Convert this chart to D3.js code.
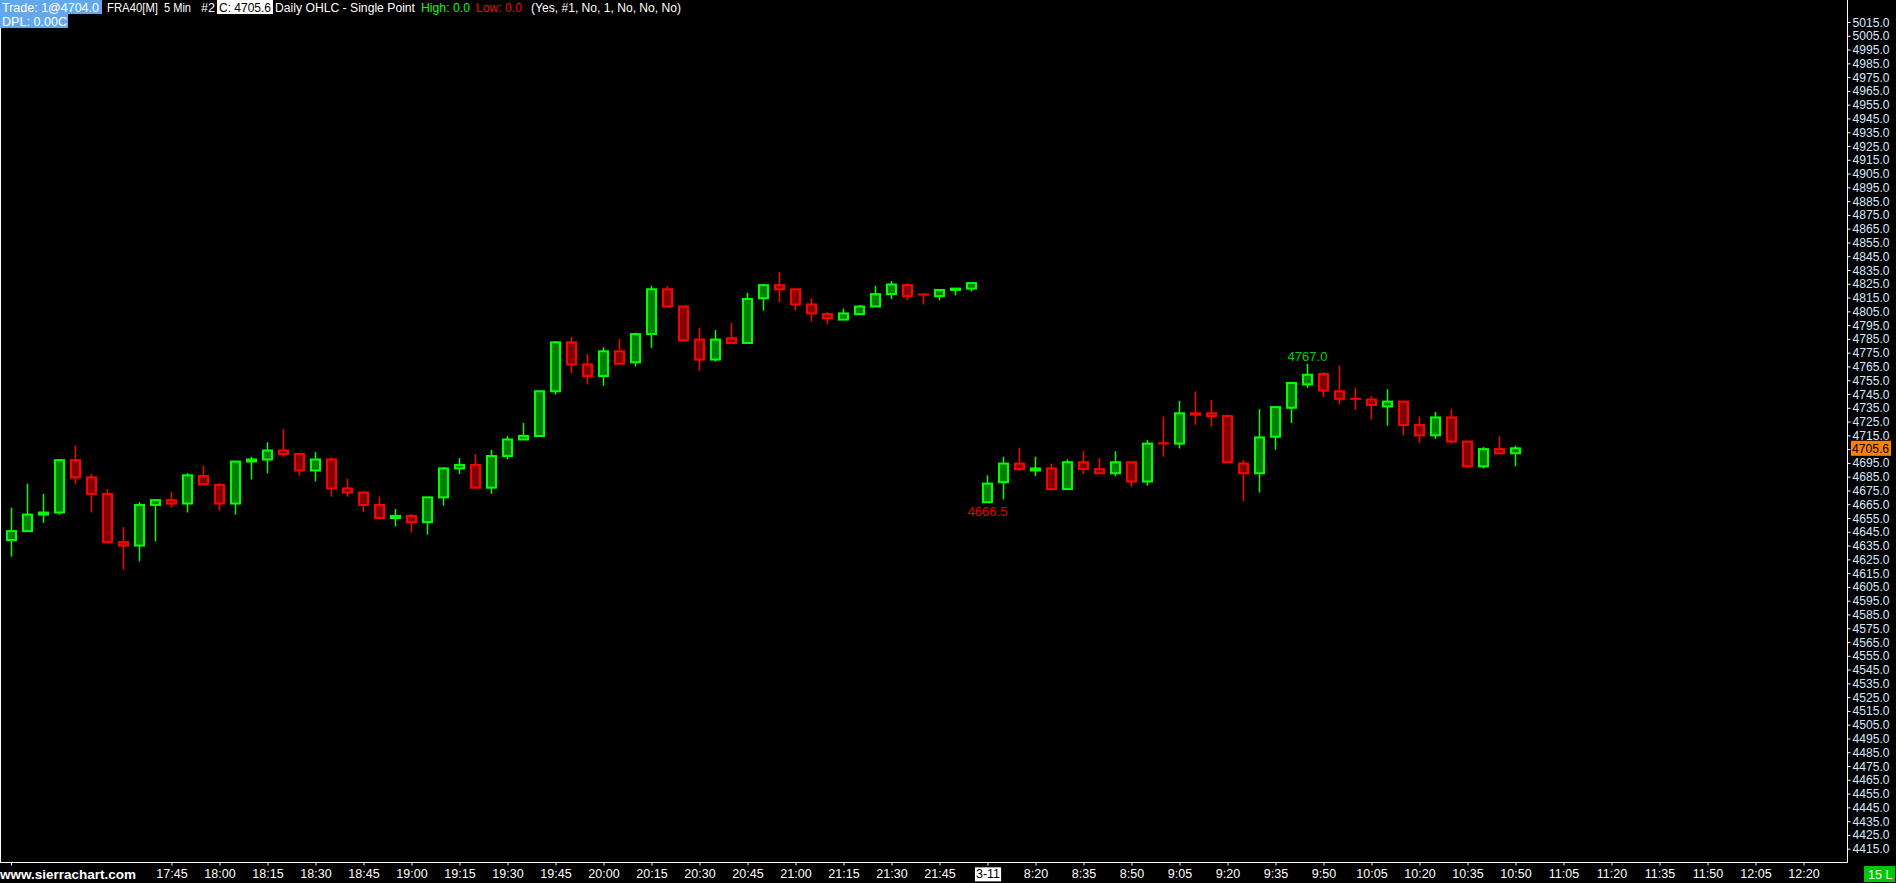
<!DOCTYPE html>
<html>
<head>
<meta charset="utf-8">
<script src="https://cdn.jsdelivr.net/npm/d3@7"></script>
<style>
html,body{margin:0;padding:0;background:#000;overflow:hidden;}
svg{display:block;}
text{font-family:"Liberation Sans",Arial,sans-serif;}
</style>
</head>
<body>
<svg id="chart" width="1896" height="883"></svg>
<script>
// ---- data (FRA40[M], 5 Min bars, bar index 0 = first bar on screen) ----
const opens = [
 4639,4645.5,4657.5,4659,4697,4684.5,4672.5,4637.5,4635,4664.5,
 4668,4665.5,4685.5,4679,4665.5,4696,4697.5,4704,4701.5,4689.5,
 4697.5,4676.5,4673.5,4664.5,4655,4656.5,4652,4670,4691,4693.5,
 4677,4700,4712,4714.5,4747,4782.5,4766.5,4758,4776,4768,
 4788.5,4821,4808.5,4784.5,4770,4785.5,4782,4814.5,4824,4821,
 4810,4803,4799,4803,4808.5,4817.5,4824,4817.5,4816,4820.5,
 4821.5,
 4666.5,4681,4694.5,4689.5,4691,4676,4695.5,4690.5,4687.5,4695.5,
 4681.5,4709.5,4709,4731,4731,4729,4694.5,4687.5,4714,4735,
 4752,4759.5,4747,4741.5,4741,4736,4739.5,4722.5,4715,4728,
 4710.5,4692.5,4705,4702
];
const highs = [
 4662.5,4680,4672.5,4697,4707.5,4687,4676,4648.5,4666.5,4668,
 4674,4687.5,4693,4680.5,4696,4699.5,4710,4719.5,4702.5,4703,
 4699,4683.5,4673.5,4670.5,4661.5,4658,4670,4692,4698.5,4701.5,
 4704.5,4714.5,4724,4747.5,4783.5,4786.5,4774,4779,4785,4789.5,
 4823.5,4823.5,4808.5,4793,4791.5,4796.5,4818.5,4825,4833.5,4821,
 4814.5,4804.5,4807,4809.5,4823.5,4827,4825.5,4817.5,4820.5,4821.5,
 4825.5,
 4686,4699.5,4706,4699.5,4694.5,4697.5,4703.5,4698.5,4703.5,4695.5,
 4711.5,4728.5,4740,4747,4740.5,4730,4697,4734,4735.5,4753,
 4767,4761,4765.5,4749.5,4743.5,4748.5,4739.5,4728.5,4732,4734,
 4710.5,4706.5,4714.5,4707.5
];
const lows = [
 4627,4645.5,4651.5,4657.5,4679.5,4659,4636.5,4617.5,4623.5,4638,
 4662.5,4659,4679.5,4660.5,4657.5,4683,4687.5,4699.5,4686,4681.5,
 4670.5,4670.5,4659.5,4654,4649,4644.5,4643,4664,4687,4676.5,
 4672.5,4697.5,4712,4714.5,4744.5,4760,4752,4751,4766.5,4765,
 4778.5,4808.5,4783,4762,4768.5,4781.5,4782,4805.5,4811.5,4805.5,
 4797.5,4795.5,4799,4803,4808.5,4814,4813,4810,4813,4816.5,
 4819.5,
 4666.5,4668.5,4689,4685.5,4675,4676,4687,4687.5,4685.5,4677.5,
 4678.5,4699.5,4705.5,4722.5,4721.5,4695.5,4667,4673.5,4704.5,4724,
 4749.5,4743,4737.5,4733.5,4726.5,4722,4715,4709.5,4712.5,4709,
 4691,4691,4702,4692.5
];
const closes = [
 4645.5,4657.5,4659,4697,4684.5,4672.5,4637.5,4635,4664.5,4668,
 4665.5,4686,4679.5,4665.5,4696,4697.5,4704,4701.5,4689.5,4697.5,
 4676.5,4673.5,4664.5,4655,4656.5,4652,4670,4691,4693.5,4677,
 4700,4712,4714.5,4747,4782.5,4766.5,4758,4776,4767,4788.5,
 4821,4808.5,4784,4770,4784.5,4782,4814,4824,4821,4810,
 4803.5,4800,4803.5,4808.5,4817.5,4824.5,4816,4817,4820.5,4821.5,
 4825.5,
 4680,4694.5,4690.5,4691,4676,4695.5,4690.5,4687.5,4695.5,4681.5,
 4709,4709,4731,4730,4729,4695.5,4687.5,4713.5,4735.5,4753,
 4759,4747.5,4741.5,4741.5,4737,4739.5,4722.5,4715,4728,4710.5,
 4692.5,4705,4702,4705.6
];
// x axis tick labels (every 3 bars, starting at bar 10)
const xTickLabels = ["17:45","18:00","18:15","18:30","18:45","19:00","19:15","19:30","19:45",
 "20:00","20:15","20:30","20:45","21:00","21:15","21:30","21:45","3-11","8:20","8:35","8:50",
 "9:05","9:20","9:35","9:50","10:05","10:20","10:35","10:50","11:05","11:20","11:35","11:50",
 "12:05","12:20"];
const xTickFirstBar = 10, xTickStep = 3;
const yTickMin = 4415, yTickMax = 5015, yTickStep = 10;
const lastPrice = 4705.6;
const lowMark = {bar:61, value:4666.5};
const highMark = {bar:81, value:4767.0};
const headerItems = [
 {t:"Trade: 1@4704.0", x:2, len:97, bg:"#64a8ec", w:102, c:"#ffffff"},
 {t:"FRA40[M]", x:107, len:51, c:"#ffffff"},
 {t:"5 Min", x:164, len:27, c:"#ffffff"},
 {t:"#2", x:201, len:14, c:"#ffffff"},
 {t:"C: 4705.6", x:219, len:52, bg:"#ffffff", w:56, c:"#000000"},
 {t:"Daily OHLC - Single Point", x:275, len:140, c:"#ffffff"},
 {t:"High: 0.0", x:421, len:49, c:"#00ff00"},
 {t:"Low: 0.0", x:476, len:46, c:"#ff0000"},
 {t:"(Yes, #1, No, 1, No, No, No)", x:531, len:150, c:"#ffffff"}
];

// ---- drawing ----
const svg = d3.select("#chart");
const W = 1896, H = 883;
const axisX = 1847.5, axisY = 862.5;
svg.append("rect").attr("width",W).attr("height",H).attr("fill","#000");

const x = d3.scaleLinear().domain([0, 100]).range([11.5, 11.5 + 1600]);
const y = d3.scaleLinear().domain([yTickMin, yTickMax]).range([848.7, 22]);

const bars = opens.map((o,i)=>({i, o, h:highs[i], l:lows[i], c:closes[i]}));

const g = svg.append("g");
bars.forEach(b=>{
  const up = b.c > b.o;
  const line = up ? "#00ff00" : "#ff0000";
  const fill = up ? "#008000" : "#800000";
  const cx = x(b.i);
  g.append("line").attr("x1",cx).attr("x2",cx)
    .attr("y1",y(b.h)).attr("y2",y(b.l))
    .attr("stroke",line).attr("stroke-width",1.5);
  const top = y(Math.max(b.o,b.c)), bot = y(Math.min(b.o,b.c));
  if (bot - top < 1.2) {
    g.append("line").attr("x1",cx-5.5).attr("x2",cx+5.5)
      .attr("y1",(top+bot)/2).attr("y2",(top+bot)/2)
      .attr("stroke",line).attr("stroke-width",2);
  } else {
    g.append("rect").attr("x",cx-4.5).attr("width",9)
      .attr("y",top).attr("height",bot-top)
      .attr("fill",fill).attr("stroke",line).attr("stroke-width",2);
  }
});

// low / high markers
svg.append("text").attr("x",x(lowMark.bar)).attr("y",y(lowMark.value)+14)
  .attr("text-anchor","middle").attr("fill","#e00000").attr("font-size",13)
  .text(lowMark.value.toFixed(1));
svg.append("text").attr("x",x(highMark.bar)).attr("y",y(highMark.value)-3)
  .attr("text-anchor","middle").attr("fill","#00d000").attr("font-size",13)
  .text(highMark.value.toFixed(1));

// frame lines
svg.append("line").attr("x1",axisX).attr("x2",axisX).attr("y1",0).attr("y2",axisY)
  .attr("stroke","#ffffff").attr("stroke-width",1);
svg.append("line").attr("x1",0).attr("x2",axisX).attr("y1",axisY).attr("y2",axisY)
  .attr("stroke","#ffffff").attr("stroke-width",1);
svg.append("line").attr("x1",0.5).attr("x2",0.5).attr("y1",0).attr("y2",axisY)
  .attr("stroke","#ffffff").attr("stroke-width",1);

// y axis
const yTicks = d3.range(yTickMin, yTickMax + 0.1, yTickStep);
const yAxis = d3.axisRight(y).tickValues(yTicks).tickSize(3).tickPadding(2)
  .tickFormat(d=>d3.format(".1f")(d));
const ya = svg.append("g").attr("transform",`translate(${axisX},0)`).call(yAxis);
ya.select(".domain").remove();
ya.selectAll(".tick line").attr("stroke","#ffffff");
ya.selectAll(".tick text").attr("fill","#d4eaff").attr("font-size",12.5)
  .attr("font-family","Liberation Sans, Arial, sans-serif")
  .attr("textLength",37).attr("lengthAdjust","spacingAndGlyphs");

// x axis
const xTickBars = xTickLabels.map((_,k)=>xTickFirstBar + k*xTickStep);
const xAxis = d3.axisBottom(x).tickValues(xTickBars).tickSize(3).tickPadding(4)
  .tickFormat((d,k)=>xTickLabels[k]);
const xa = svg.append("g").attr("transform",`translate(0,${axisY})`).call(xAxis);
xa.select(".domain").remove();
xa.selectAll(".tick line").attr("stroke","#ffffff");
xa.selectAll(".tick text").attr("fill","#ffffff").attr("font-size",12.5)
  .attr("font-family","Liberation Sans, Arial, sans-serif");
// date marker box
xa.selectAll(".tick").filter((d,k)=>xTickLabels[k].includes("-")).each(function(){
  const t = d3.select(this).select("text");
  const bb = t.node().getBBox();
  d3.select(this).insert("rect","text").attr("x",bb.x-1).attr("y",bb.y)
    .attr("width",bb.width+2).attr("height",bb.height).attr("fill","#ffffff");
  t.attr("fill","#000000");
});
// first-bar tick
svg.append("line").attr("x1",x(0)).attr("x2",x(0)).attr("y1",axisY).attr("y2",axisY+3)
  .attr("stroke","#ffffff");

svg.append("text").attr("x",0).attr("y",879).attr("fill","#ffffff")
  .attr("font-size",13).attr("font-weight","bold")
  .attr("textLength",136).attr("lengthAdjust","spacingAndGlyphs")
  .text("www.sierrachart.com");

// last price label
const lp = y(lastPrice);
svg.append("rect").attr("x",1851).attr("y",lp-7.5).attr("width",40).attr("height",15)
  .attr("fill","#ff8000");
svg.append("text").attr("x",1852).attr("y",lp+4.5).attr("fill","#000").attr("font-size",12.5)
  .attr("textLength",37).attr("lengthAdjust","spacingAndGlyphs")
  .text(lastPrice.toFixed(1));

// "15 L" box
svg.append("rect").attr("x",1864).attr("y",866).attr("width",31).attr("height",16).attr("fill","#00c800");
svg.append("text").attr("x",1868).attr("y",879).attr("fill","#fff").attr("font-size",12.5).text("15 L");

// header
headerItems.forEach(h=>{
  if (h.bg) svg.append("rect").attr("x",h.x-2).attr("y",0).attr("width",h.w).attr("height",14).attr("fill",h.bg);
  svg.append("text").attr("x",h.x).attr("y",11.5).attr("fill",h.c).attr("font-size",13)
    .attr("textLength",h.len).attr("lengthAdjust","spacingAndGlyphs").text(h.t);
});
svg.append("rect").attr("x",0).attr("y",14).attr("width",68).attr("height",14).attr("fill","#64a8ec");
svg.append("text").attr("x",2).attr("y",25.5).attr("fill","#fff").attr("font-size",13)
  .attr("textLength",65).attr("lengthAdjust","spacingAndGlyphs").text("DPL: 0.00C");
</script>
</body>
</html>
